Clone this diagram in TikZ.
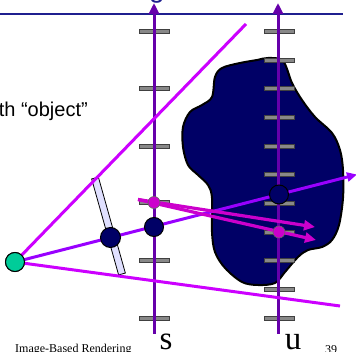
\documentclass[tikz,border=0pt]{standalone}
\usepackage{fontspec}
\setmainfont{Liberation Serif}
\newfontfamily\arialf{Liberation Sans}
\usetikzlibrary{arrows.meta}
\definecolor{topnavy}{HTML}{1F1F8F}
\definecolor{vpurple}{HTML}{6600AA}
\definecolor{fovcol}{HTML}{CC00FF}
\definecolor{raycol}{HTML}{9900FF}
\definecolor{magcol}{HTML}{CC00CC}
\definecolor{navyfill}{HTML}{000066}
\definecolor{eyecol}{HTML}{00CC99}
\definecolor{barcol}{HTML}{E0E0FF}
\definecolor{tickcol}{HTML}{888888}
\begin{document}
\begin{tikzpicture}[x=1pt,y=-1pt,
  tickbar/.style={fill=tickcol,draw=black!75,line width=0.8pt},
  vaxis/.style={draw=vpurple,line width=3pt,-{Triangle[length=11pt,width=10pt]}},
  fovline/.style={draw=fovcol,line width=3pt},
  rayline/.style={draw=raycol,line width=3pt,-{Triangle[length=10pt,width=9pt]}},
  magarrow/.style={draw=magcol,line width=3.2pt,-{Triangle[length=11pt,width=10pt]}},
  navydot/.style={circle,fill=navyfill,draw=black,line width=1pt,minimum size=19pt,inner sep=0pt},
  magdot/.style={circle,fill=magcol,draw=black!60,line width=0.6pt,minimum size=12pt,inner sep=0pt},
  eyedot/.style={circle,fill=eyecol,draw=black,line width=1pt,minimum size=19pt,inner sep=0pt},
  lbl/.style={inner sep=0pt,text=black}]
\useasboundingbox (0,0) rectangle (356,352);
% top rule and cut-off title letter
\draw[topnavy,line width=2pt] (0,14) -- (343,14);
\node[lbl,anchor=base,text=topnavy] (gtitle) at (157,-2) {\arialf\fontsize{28}{32}\selectfont g};
% object blob
\draw[fill=navyfill,draw=black,line width=2pt] plot[smooth cycle,tension=0.55] coordinates {
 (222,68) (240,63) (257,60) (268,58) (283,61) (292,83) (302,100) (315,117) (332,133)
 (340,150) (343,170) (343,198) (339,225) (332,240) (322,247) (308,250) (298,257)
 (285,272) (275,283) (258,285) (242,282) (225,268) (215,252) (212,232) (212,198)
 (208,185) (198,175) (188,165) (183,147) (183,127) (190,112) (202,105) (212,97) (215,77)};
% ticks
\foreach \y in {31,88,146,202,260,318}
  \draw[tickbar] (139,\y-2) rectangle (169,\y+2);
\foreach \y in {31,60,88,117,146,174,203,232,260,289,318}
  \draw[tickbar] (264,\y-2) rectangle (294,\y+2);
% axes
\coordinate (sbot) at (154,334); \coordinate (stop) at (154,3);
\coordinate (ubot) at (278,334); \coordinate (utop) at (278,3);
\draw[vaxis] (sbot) -- (stop);
\draw[vaxis] (ubot) -- (utop);
% image plane bar
\node[draw=black,fill=barcol,line width=0.8pt,minimum width=7pt,minimum height=99.7pt,inner sep=0pt,rotate=15.7] (bar) at (108.5,226) {};
% eye and rays
\node[eyedot] (eye) at (15,262) {};
\coordinate (fovtop) at (246,24);
\coordinate (fovbot) at (340,306);
\coordinate (rayend) at (357,174.5);
\draw[fovline] (eye.center) -- (fovtop);
\draw[fovline] (eye.center) -- (fovbot);
\draw[rayline] (eye.center) -- (rayend);
% magenta arrows
\coordinate (mstart) at (138,199.5);
\coordinate (mendA) at (315,227);
\coordinate (mendB) at (316,240);
\draw[magarrow] (mstart) -- (mendA);
\draw[magarrow] (mstart) -- (mendB);
% dots
\node[navydot,minimum size=20pt] (d1) at (110.5,237.5) {};
\node[navydot] (d2) at (154,227) {};
\node[navydot] (d3) at (279,194.5) {};
\node[magdot] (m1) at (154,202.5) {};
\node[magdot] (m2) at (279,232) {};
\node[eyedot] (eye2) at (15,262) {};
% labels
\node[lbl,anchor=base east] (objtext) at (88,117) {\arialf\fontsize{20}{24}\selectfont with “object”};
\node[lbl,anchor=base] (slbl) at (166,350) {\fontsize{33}{36}\selectfont s};
\node[lbl,anchor=base] (ulbl) at (293,350) {\fontsize{33}{36}\selectfont u};
\node[lbl,anchor=base west] (footer) at (15,353) {\fontsize{12}{14}\selectfont Image-Based Rendering};
\node[lbl,anchor=base west] (pagenum) at (325,354) {\fontsize{12}{14}\selectfont 39};
\end{tikzpicture}
\end{document}
